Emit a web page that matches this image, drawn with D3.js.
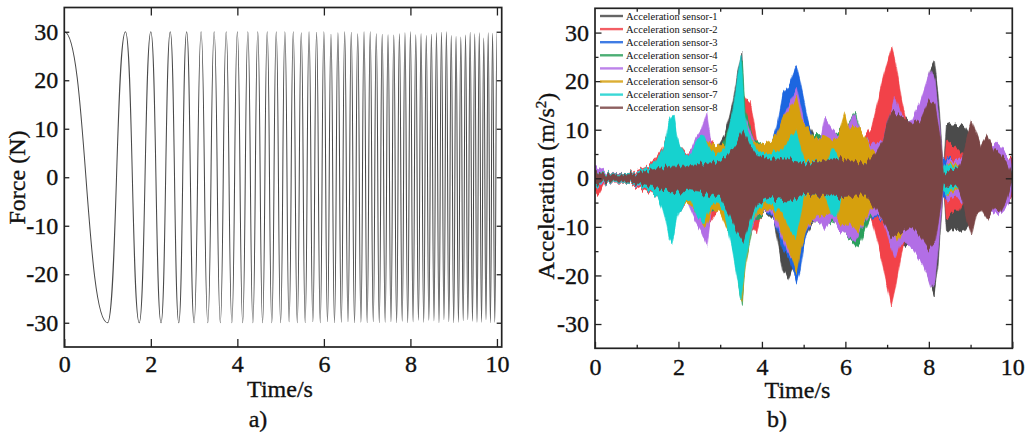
<!DOCTYPE html>
<html><head><meta charset="utf-8">
<script src="https://cdn.jsdelivr.net/npm/d3@7"></script>
<style>
body{margin:0;background:#fff}
svg{display:block}
text{font-family:"Liberation Serif","Times New Roman",serif;fill:#111}
.big{stroke:#111;stroke-width:0.35px}
</style>
</head><body>
<svg id="c" width="1031" height="434"></svg>
<script>
// ---------------- DATA ----------------
// a) Force signal: times of successive extrema (s) and their values (N)
const forceTimes = [0,1,1.414,1.732,2,2.236,2.449,2.646,2.828,3,3.162,3.317,3.464,3.606,3.742,3.873,4,4.123,4.243,4.359,4.472,4.583,4.69,4.796,4.899,5,5.099,5.196,5.292,5.385,5.477,5.568,5.657,5.745,5.831,5.916,6,6.083,6.164,6.245,6.325,6.403,6.481,6.557,6.633,6.708,6.782,6.856,6.928,7,7.071,7.141,7.211,7.28,7.348,7.416,7.483,7.55,7.616,7.681,7.746,7.81,7.874,7.937,8,8.062,8.124,8.185,8.246,8.307,8.367,8.426,8.485,8.544,8.602,8.66,8.718,8.775,8.832,8.888,8.944,9,9.055,9.11,9.165,9.22,9.274,9.327,9.381,9.434,9.487,9.539,9.592,9.644,9.695,9.747,9.798,9.849,9.899,9.95,10];
const forceValues = [30,-30,30,-30,30,-30,30,-30,30,-30,30,-30,30,-30,30,-30,30,-30,30,-30,30,-30,30,-30,30,-30,30,-29.8,30,-30,29.8,-30,30,-29.8,29.9,-30,30,-29.8,29.5,-30,29.8,-29.9,30,-29.8,29.9,-30,29.6,-29.9,30,-30,30,-29.8,29.6,-30,29.5,-29.9,29.4,-29.8,29.3,-30,29.6,-29.7,29.8,-30,30,-29.8,29.4,-29.5,29.6,-29.9,29.2,-29.5,29.5,-29.6,29.8,-30,29.9,-29.4,30,-29.8,29.2,-30,29,-29.9,28.9,-29.6,29.3,-29.4,29.9,-29.7,29.6,-29.9,29.8,-29.9,28.7,-29.4,29.8,-30,29.7,-29.9,30];
const forceXTicks = [0,2,4,6,8,10];
const forceYTicks = [30,20,10,0,-10,-20,-30];

// b) Acceleration envelopes: [time s, upper m/s2, lower m/s2]
const sensor1 = [[0,1.5,-2],[0.3,0.8,-0.8],[1,1,-1],[1.5,3,-3],[1.8,7,-7],[2.2,4,-4],[2.6,7,-7],[2.9,6,-6],[3.1,9,-8],[3.22,12.6,-10],[3.31,16,-11.5],[3.42,22,-20],[3.52,26,-24],[3.58,13,-18],[3.65,8,-12],[3.8,8,-9],[4.0,6,-6.5],[4.3,8,-9],[4.5,14,-19],[4.62,17,-21],[4.72,18,-19],[4.83,20,-20],[5.0,14,-13],[5.3,8,-8],[5.8,8,-8],[6.2,9,-9],[6.6,7,-7],[7.0,15,-15],[7.2,15,-15],[7.6,11,-13],[7.9,17,-18],[8.05,23,-22],[8.13,24.3,-23.8],[8.22,18,-18],[8.3,8,-8],[8.35,1.5,-1.5],[8.42,11,-10.6],[8.55,11.5,-10.6],[8.7,10.6,-10.8],[8.85,11,-10.6],[8.95,9.5,-9.5],[9.05,6,-6],[9.5,5,-5],[10,1,-1]];
const sensor2 = [[0,2,-3],[0.1,2,-3.5],[0.25,1,-1],[0.8,1,-1],[1.2,2.2,-2.5],[1.44,4,-3.5],[1.6,6,-5],[1.7,8,-7],[1.8,9,-8],[1.9,7,-7],[2.05,6.5,-6],[2.2,5,-5],[2.5,8,-9],[2.7,9,-10],[3.0,5,-6],[3.3,10,-10],[3.5,18,-18],[3.58,17,-15],[3.65,16,-13],[3.72,15.4,-11],[3.8,12,-10.5],[3.87,8,-11.4],[3.95,6,-8],[4.2,6,-6],[4.6,10,-10],[5.0,9,-9],[5.5,7,-7],[6.0,8,-8],[6.4,8,-8],[6.51,9,-8],[6.63,10.5,-8.2],[6.87,19.5,-16.6],[7.0,24,-22],[7.11,27,-26.5],[7.2,24,-23],[7.35,16,-15.4],[7.45,12,-12],[7.6,11,-12],[8,12,-12],[8.2,8,-8],[8.35,1,-1],[8.42,7.8,-8.2],[8.55,7,-7],[8.7,6,-7],[8.8,5,-5],[9,6,-6],[9.5,5,-5],[9.8,4,-5],[10,4,-4]];
const sensor3 = [[0,1.5,-1.5],[0.3,0.8,-0.8],[1,1,-1],[1.5,3,-3.5],[1.8,6,-6],[2.2,4,-4],[2.6,7,-8],[3.0,6,-6],[3.3,10,-10],[3.5,15,-18],[3.7,9,-11],[4.0,6,-6.5],[4.25,8,-8],[4.35,10.4,-10],[4.5,17.4,-14.6],[4.67,19.5,-17],[4.83,23.2,-21.6],[4.92,20,-19],[5.0,16.7,-14],[5.08,13.3,-11.4],[5.2,9,-9],[5.5,8,-8],[6.0,8,-8],[6.4,7,-8],[6.55,6,-7.5],[6.7,6.5,-8],[6.85,7.5,-9],[7.0,8,-9],[7.3,10,-12],[7.6,9,-12],[8,10,-12],[8.3,4,-4],[8.4,4,-3.8],[8.5,4.5,-4],[8.6,3,-3],[9,3,-3],[10,1,-1]];
const sensor4 = [[0,1.5,-1.5],[0.3,0.8,-0.8],[1,1,-1],[1.5,3,-3],[1.8,5,-6],[2.2,4,-4],[2.6,7,-8],[3.0,6,-6],[3.3,12,-12],[3.45,20,-22],[3.53,24,-26.2],[3.6,14,-18],[3.8,8,-9],[4.2,6,-6],[4.6,12,-12],[4.85,15,-17],[5.1,9,-9],[5.5,9,-9],[5.9,10,-10],[6.05,11,-12],[6.25,13.8,-14],[6.35,10,-13.5],[6.5,8,-10],[6.65,6.5,-7],[6.8,6,-6.5],[7.0,7,-8],[7.3,10,-11],[7.6,9,-10],[8,10,-10],[8.3,3,-3],[8.4,2,-2],[8.6,2.5,-2.5],[9,3,-3],[10,1,-1]];
const sensor5 = [[0,2.5,-2],[0.15,2,-1.5],[0.3,1,-1],[0.8,0.8,-0.8],[1.2,1.8,-2],[1.5,3,-3.5],[1.75,6,-7],[2.0,6,-6],[2.2,4,-5],[2.4,8,-9],[2.55,10,-11],[2.68,13.6,-13.8],[2.8,6,-6],[3.0,5,-6],[3.3,9,-10],[3.5,15,-20],[3.7,10,-12],[3.9,6,-7],[4.2,6,-7],[4.4,10,-10.5],[4.6,14.5,-15],[4.83,18.5,-18],[5.0,12,-12],[5.2,8,-9],[5.4,8,-9],[5.51,12.6,-10.6],[5.67,10.5,-8.6],[5.83,9.1,-10.6],[6.0,10,-11.4],[6.23,13.3,-13],[6.4,9,-10],[6.6,7,-7],[6.9,8,-9],[7.19,16.7,-16.6],[7.3,14,-14],[7.45,11.5,-13],[7.6,12,-14.5],[7.8,16,-17],[7.95,20,-19.6],[8.05,22.6,-22.5],[8.15,20,-21],[8.25,12,-12],[8.35,1,-1],[8.45,4,-4.5],[8.6,3.5,-4],[8.9,5,-5],[9.2,6,-6],[9.5,7,-7],[9.67,7,-7.5],[9.85,5,-5.8],[9.95,3.5,-4],[10,2,-2]];
const sensor6 = [[0,1.5,-1.5],[0.2,1,-1],[0.6,0.7,-0.7],[1.0,1,-1],[1.4,2.5,-2.5],[1.7,5,-6],[1.9,6,-6],[2.1,5,-5],[2.3,4,-6],[2.5,7,-8],[2.65,8,-10],[2.8,7,-6.5],[3.0,7,-7.3],[3.15,7,-10],[3.3,10,-11.5],[3.45,16,-22],[3.52,17,-25.5],[3.6,12,-19],[3.68,9,-14],[3.75,8,-10],[3.9,7,-7],[4.0,7,-7],[4.2,7.8,-6.5],[4.35,9,-8],[4.5,12.6,-12],[4.7,15,-16],[4.83,16.7,-19.6],[4.95,12,-14],[5.1,11,-10],[5.2,9,-9],[5.35,7.8,-7.3],[5.5,9,-8],[5.7,8,-7],[5.85,9,-9],[5.99,13.3,-10],[6.1,10,-9],[6.3,11,-11],[6.45,9,-9],[6.6,6,-6],[6.8,5,-5],[7.0,6,-7],[7.25,11,-13],[7.5,8,-9],[8,5,-5],[8.35,1,-1],[8.45,3,-3.2],[8.6,3,-3],[8.8,2,-2],[10,1,-1]];
const sensor7 = [[0,1.5,-2],[0.2,1,-1],[0.6,0.8,-0.8],[1.0,1.2,-1.2],[1.3,2.5,-2.5],[1.5,4,-4],[1.62,6,-6.5],[1.7,8,-9],[1.78,12,-12.5],[1.84,13,-13.5],[1.9,12.6,-11],[1.96,9,-8],[2.02,7,-6.5],[2.15,5,-5],[2.3,5,-5],[2.45,8,-8],[2.6,9,-9],[2.75,6,-6],[2.9,5,-5],[3.1,6,-7],[3.3,14,-15],[3.4,20,-20],[3.5,25.5,-25],[3.58,14,-19.5],[3.65,10,-15],[3.75,8,-10],[3.9,5.5,-6],[4.1,5,-5],[4.3,5.5,-6],[4.5,5.8,-7],[4.65,8,-10],[4.8,10,-12],[4.9,7,-9],[5.0,4,-4],[5.1,3.5,-3.5],[5.3,3.5,-3.5],[5.5,3.5,-3.5],[5.6,4,-6],[5.68,6.4,-8],[5.78,5.5,-8.5],[5.9,3,-4],[6.2,3,-3],[6.5,3,-3.5],[6.7,3,-3],[7,2,-2],[8.3,2,-2],[8.4,3,-3],[8.55,2.5,-2.5],[8.8,2,-2],[9,1.5,-1.5],[10,1,-1]];
const sensor8 = [[0,1.5,-1.5],[0.2,0.8,-0.8],[0.6,0.6,-0.6],[1.0,1.0,-1.0],[1.4,1.8,-1.8],[1.8,2.5,-2.8],[2.2,2.5,-2.5],[2.6,3,-3],[3.0,3.5,-4],[3.2,5,-7],[3.4,7.5,-11],[3.55,10,-13],[3.7,7,-9],[3.9,4.5,-5],[4.2,4,-4],[4.6,4,-4.5],[5.0,3,-3.5],[5.4,3.5,-3.5],[5.8,4.2,-4],[6.2,3.5,-3.5],[6.5,3,-3.5],[6.7,5,-6],[6.9,8,-9],[7.1,14,-12],[7.2,13.5,-11.7],[7.45,12,-10.6],[7.6,11.3,-9.7],[7.8,12,-12],[8.0,16,-14.6],[8.15,15,-13],[8.28,8,-6],[8.35,1,-1],[8.45,1.5,-1.5],[8.7,2,-2],[8.8,4,-4],[8.9,8,-8],[9.03,12,-11.7],[9.15,9,-7],[9.25,6.5,-6.5],[9.4,8.8,-8.6],[9.55,6,-6],[9.7,5,-7],[9.85,3.5,-4.5],[10,0.5,-0.5]];
const sensorNames = ["Acceleration sensor-1","Acceleration sensor-2","Acceleration sensor-3","Acceleration sensor-4","Acceleration sensor-5","Acceleration sensor-6","Acceleration sensor-7","Acceleration sensor-8"];
const accelXTicks = [0,2,4,6,8,10];
const accelXMinor = [1,3,5,7,9];
const accelYTicks = [30,20,10,0,-10,-20,-30];
const accelYMinor = [25,15,5,-5,-15,-25];

// ---------------- STYLE ----------------
const sensorColors = ["#4b4b4b","#f2434a","#1f66e0","#2ca05c","#b26ee6","#d6a010","#19d2cf","#7a4545"];
const svg = d3.select("#c");
const fmt = d => String(d);

// jagged-edge filter to mimic dense oscillation texture
const defs = svg.append("defs");
const f = defs.append("filter").attr("id","jag").attr("x","-2%").attr("y","-10%").attr("width","104%").attr("height","120%");
f.append("feTurbulence").attr("type","fractalNoise").attr("baseFrequency","0.4 0.012").attr("numOctaves",1).attr("seed",7).attr("result","n");
f.append("feColorMatrix").attr("in","n").attr("type","matrix")
  .attr("values","1 0 0 0 0  0 0 0 0 0.5  0 0 0 0 0  0 0 0 0 1").attr("result","m");
f.append("feDisplacementMap").attr("in","SourceGraphic").attr("in2","m").attr("scale",14)
  .attr("xChannelSelector","G").attr("yChannelSelector","R");

function frame(g, x0, x1, y0, y1){
  g.append("rect").attr("x",x0).attr("y",y0).attr("width",x1-x0).attr("height",y1-y0)
   .attr("fill","none").attr("stroke","#222").attr("stroke-width",1.7);
}
function styleAxis(sel, fs){
  sel.select(".domain").remove();
  sel.selectAll(".tick line").attr("stroke","#222").attr("stroke-width",1.3);
  sel.selectAll(".tick text").attr("font-size",fs).attr("fill","#111").attr("class","big")
     .attr("font-family","'Liberation Serif','Times New Roman',serif");
}

// ---------- Panel a ----------
{
  const L=64.3,R=501.7,T=7.5,B=347;
  const x=d3.scaleLinear([0,10.11],[L,R]);
  const y=d3.scaleLinear([-35,35],[B,T]);
  const g=svg.append("g");
  const pts=forceTimes.map((t,i)=>({t,v:forceValues[i]}));
  g.append("clipPath").attr("id","ca").append("rect").attr("x",L).attr("y",T).attr("width",R-L).attr("height",B-T);
  g.append("path").datum(pts).attr("clip-path","url(#ca)")
    .attr("d",d3.line().x(d=>x(d.t)).y(d=>y(d.v)).curve(d3.curveBumpX))
    .attr("fill","none").attr("stroke","#4a4a4a").attr("stroke-width",1.05);
  g.append("g").attr("transform",`translate(0,${B})`)
    .call(d3.axisBottom(x).tickValues(forceXTicks).tickFormat(fmt).tickSizeInner(-8).tickSizeOuter(0).tickPadding(8))
    .call(s=>styleAxis(s,24));
  g.append("g").attr("transform",`translate(0,${T})`)
    .call(d3.axisTop(x).tickValues(forceXTicks.filter(d=>d>0)).tickFormat("").tickSizeInner(-8).tickSizeOuter(0))
    .call(s=>styleAxis(s,24));
  g.append("g").attr("transform",`translate(${L},0)`)
    .call(d3.axisLeft(y).tickValues(forceYTicks).tickFormat(fmt).tickSizeInner(-5).tickSizeOuter(0).tickPadding(6))
    .call(s=>styleAxis(s,24));
  g.append("g").attr("transform",`translate(${R},0)`)
    .call(d3.axisRight(y).tickValues(forceYTicks).tickFormat("").tickSizeInner(-5).tickSizeOuter(0))
    .call(s=>styleAxis(s,24));
  frame(g,L,R,T,B);
  g.append("text").attr("class","big").attr("x",280).attr("y",397).attr("text-anchor","middle").attr("font-size",24).text("Time/s");
  g.append("text").attr("class","big").attr("transform","translate(17,177.5) rotate(-90)").attr("dy","0.35em")
    .attr("text-anchor","middle").attr("font-size",24).text("Force (N)");
  g.append("text").attr("class","big").attr("x",258).attr("y",427).attr("text-anchor","middle").attr("font-size",24).text("a)");
}

// ---------- Panel b ----------
{
  const L=595,R=1012.3,T=8.3,B=348.3;
  const x=d3.scaleLinear([0,10],[L,R]);
  const y=d3.scaleLinear([-35,35],[B,T]);
  const g=svg.append("g");
  g.append("clipPath").attr("id","cb").append("rect").attr("x",L).attr("y",T).attr("width",R-L).attr("height",B-T);
  const area=d3.area().x(d=>x(d[0])).y0(d=>y(d[2])).y1(d=>y(d[1]));
  const series=[sensor1,sensor2,sensor3,sensor4,sensor5,sensor6,sensor7,sensor8];
  const gc=g.append("g").attr("clip-path","url(#cb)");
  const ga=gc.append("g").attr("filter","url(#jag)");
  series.forEach((s,i)=>{
    ga.append("path").datum(s).attr("d",area).attr("fill",sensorColors[i])
      .attr("stroke",sensorColors[i]).attr("stroke-width",0.6);
  });
  g.append("g").attr("transform",`translate(0,${B})`)
    .call(d3.axisBottom(x).tickValues(accelXTicks).tickFormat(fmt).tickSizeInner(-6.5).tickSizeOuter(0).tickPadding(10))
    .call(s=>styleAxis(s,24));
  g.append("g").attr("transform",`translate(0,${B})`)
    .call(d3.axisBottom(x).tickValues(accelXMinor).tickFormat("").tickSizeInner(-3.5).tickSizeOuter(0))
    .call(s=>styleAxis(s,24));
  g.append("g").attr("transform",`translate(0,${T})`)
    .call(d3.axisTop(x).tickValues(accelXTicks.concat(accelXMinor).filter(d=>d>0&&d<10)).tickFormat("")
      .tickSizeInner(-6.5).tickSizeOuter(0))
    .call(s=>{styleAxis(s,24); s.selectAll(".tick line").attr("y2",d=>accelXMinor.includes(d)?3.5:6.5);});
  g.append("g").attr("transform",`translate(${L},0)`)
    .call(d3.axisLeft(y).tickValues(accelYTicks).tickFormat(fmt).tickSizeInner(-6.5).tickSizeOuter(0).tickPadding(6))
    .call(s=>styleAxis(s,24));
  g.append("g").attr("transform",`translate(${L},0)`)
    .call(d3.axisLeft(y).tickValues(accelYMinor).tickFormat("").tickSizeInner(-3.5).tickSizeOuter(0))
    .call(s=>styleAxis(s,24));
  g.append("g").attr("transform",`translate(${R},0)`)
    .call(d3.axisRight(y).tickValues(accelYTicks.concat(accelYMinor)).tickFormat("").tickSizeInner(-6.5).tickSizeOuter(0))
    .call(s=>{styleAxis(s,24); s.selectAll(".tick line").attr("x2",d=>accelYMinor.includes(d)?-3.5:-6.5);});
  frame(g,L,R,T,B);
  // legend
  const lg=g.append("g");
  sensorNames.forEach((n,i)=>{
    const yy=16+13.1*i;
    lg.append("line").attr("x1",600).attr("x2",623).attr("y1",yy).attr("y2",yy)
      .attr("stroke",sensorColors[i]).attr("stroke-width",2.4).attr("opacity",0.85);
    lg.append("text").attr("x",626).attr("y",yy+3.6).attr("font-size",10.5).attr("fill","#333").text(n);
  });
  g.append("text").attr("class","big").attr("x",797.5).attr("y",398).attr("text-anchor","middle").attr("font-size",24).text("Time/s");
  const yl=g.append("text").attr("class","big").attr("transform","translate(546,186) rotate(-90)").attr("dy","0.35em")
    .attr("text-anchor","middle").attr("font-size",24);
  yl.append("tspan").text("Acceleration (m/s");
  yl.append("tspan").attr("font-size",15).attr("dy","-0.55em").text("2");
  yl.append("tspan").attr("dy","0.35em").text(")");
  g.append("text").attr("class","big").attr("x",777).attr("y",427).attr("text-anchor","middle").attr("font-size",24).text("b)");
}
</script>
</body></html>
